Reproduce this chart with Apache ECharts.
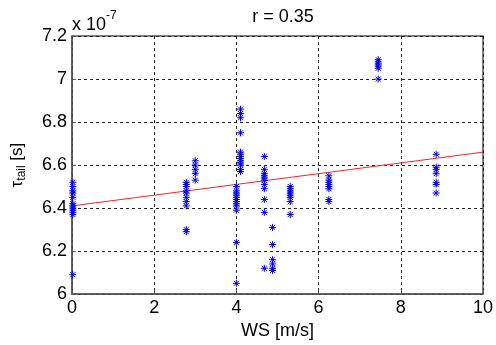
<!DOCTYPE html>
<html><head><meta charset="utf-8">
<script src="https://cdn.jsdelivr.net/npm/echarts@6/dist/echarts.min.js"></script>
<style>html,body{margin:0;padding:0;background:#fff}#c{width:496px;height:345px}</style>
</head><body><div id="c"></div>
<script>
// wind speed (m/s)
const wsValues = [
 0.02,0.02,0.02,0.02,0.02,0.02,0.02,0.02,0.02,0.02,0.02,0.02,
 2.78,2.78,2.78,2.78,2.78,2.78,2.78,2.78,2.78,2.78,
 3.0,3.0,3.0,3.0,3.0,
 4.0,4.0,4.0,4.0,4.0,4.0,4.0,4.0,4.0,4.0,4.0,4.0,
 4.1,4.1,4.1,4.1,4.1,4.1,4.1,4.1,4.1,4.1,4.1,4.1,4.1,
 4.68,4.68,4.68,4.68,4.68,4.68,4.68,4.68,4.68,4.68,4.68,
 4.88,4.88,4.88,4.88,4.88,4.88,
 5.31,5.31,5.31,5.31,5.31,5.31,5.31,5.31,
 6.25,6.25,6.25,6.25,6.25,6.25,6.25,6.25,
 7.45,7.45,7.45,7.45,7.45,7.45,
 8.86,8.86,8.86,8.86,8.86,8.86,8.86
];
// tau_tail (x 1e-7 s)
const tauValues = [
 6.52,6.50,6.48,6.47,6.45,6.42,6.41,6.40,6.39,6.38,6.37,6.09,
 6.52,6.51,6.50,6.48,6.47,6.45,6.43,6.41,6.30,6.29,
 6.62,6.60,6.58,6.56,6.53,
 6.50,6.48,6.47,6.46,6.45,6.44,6.43,6.42,6.41,6.39,6.24,6.05,
 6.86,6.84,6.82,6.75,6.66,6.65,6.64,6.63,6.62,6.61,6.60,6.58,6.57,
 6.64,6.58,6.56,6.55,6.54,6.53,6.51,6.49,6.44,6.38,6.12,
 6.31,6.23,6.16,6.14,6.12,6.11,
 6.50,6.49,6.48,6.47,6.46,6.45,6.43,6.37,
 6.55,6.53,6.52,6.51,6.50,6.49,6.44,6.43,
 7.09,7.08,7.07,7.06,7.05,7.00,
 6.65,6.59,6.58,6.56,6.52,6.51,6.47
];
const fitX = [0, 10];
const fitY = [6.41, 6.66];
const xTicks = [0, 2, 4, 6, 8, 10];
const yTicks = [6, 6.2, 6.4, 6.6, 6.8, 7, 7.2];
const titleText = 'r = 0.35';

const chart = echarts.init(document.getElementById('c'), null, {renderer:'canvas'});
const font = 'Liberation Sans, Arial, sans-serif';
const star = 'path://M0,-5L0,5M-5,0L5,0M-3.6,-3.6L3.6,3.6M-3.6,3.6L3.6,-3.6';
chart.setOption({
  animation:false,
  backgroundColor:'#fff',
  title:{text:titleText,left:278,top:3,textAlign:'center',textStyle:{fontFamily:font,fontSize:18,fontWeight:'normal',color:'#000'}},
  grid:{left:72,right:12,top:36,bottom:50,show:true,borderColor:'#555',borderWidth:1.5,backgroundColor:'transparent'},
  xAxis:{type:'value',min:xTicks[0],max:xTicks[xTicks.length-1],interval:2,
    name:'WS [m/s]',nameLocation:'middle',nameGap:26,
    nameTextStyle:{fontFamily:font,fontSize:18,color:'#000'},
    axisLine:{show:true,onZero:false,lineStyle:{color:'#555',width:1.5}},
    axisTick:{show:true,inside:true,length:4,lineStyle:{color:'#555'}},
    axisLabel:{fontFamily:font,fontSize:18,color:'#000',margin:5},
    splitLine:{show:true,lineStyle:{color:'#222',type:[3,3],width:1}}},
  yAxis:{type:'value',min:yTicks[0],max:yTicks[yTicks.length-1],interval:0.2,
    name:'{a|τ}{s|tail}{a| [s]}',nameLocation:'middle',nameGap:44,nameRotate:90,
    nameTextStyle:{fontFamily:font,color:'#000',rich:{
      a:{fontFamily:font,fontSize:17,color:'#000'},
      s:{fontFamily:font,fontSize:12,color:'#000',verticalAlign:'bottom',padding:[9,0,0,0]}}},
    axisLine:{show:true,lineStyle:{color:'#555',width:1.5}},
    axisTick:{show:true,inside:true,length:4,lineStyle:{color:'#555'}},
    axisLabel:{fontFamily:font,fontSize:18,color:'#000',margin:5,formatter:v=>String(Math.round(v*10)/10)},
    splitLine:{show:true,lineStyle:{color:'#222',type:[3,3],width:1}}},
  graphic:[{type:'text',left:72,top:10,style:{text:'{a|x 10}{s|-7}',rich:{
      a:{fontFamily:font,fontSize:18,fill:'#000',verticalAlign:'bottom'},
      s:{fontFamily:font,fontSize:12,fill:'#000',verticalAlign:'top',padding:[0,0,12,0]}}}}],
  series:[
    {type:'scatter',data:wsValues.map((x,i)=>[x,tauValues[i]]),symbol:star,symbolSize:7,
      itemStyle:{color:'none',borderColor:'#0000ff',borderWidth:1,opacity:1},z:3},
    {type:'line',data:fitX.map((x,i)=>[x,fitY[i]]),showSymbol:false,symbol:'none',
      lineStyle:{color:'#ff2020',width:1},z:2}
  ]
});
</script></body></html>
